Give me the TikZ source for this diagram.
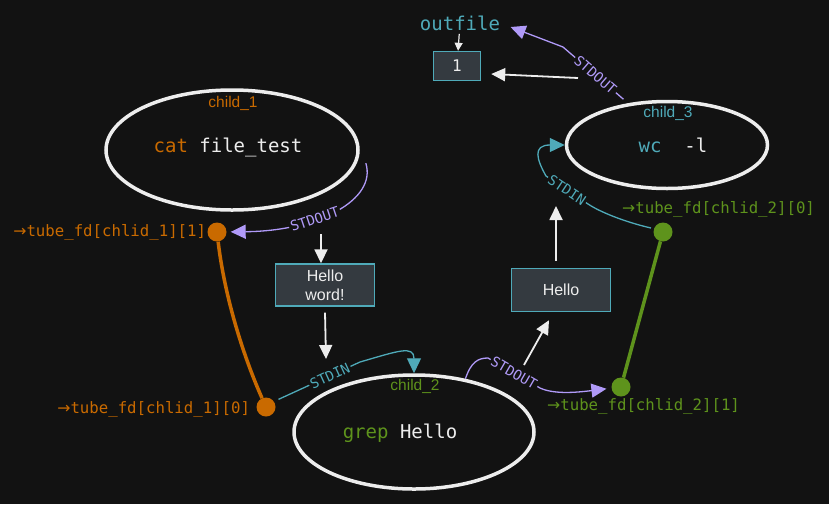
\documentclass[tikz,border=0pt]{standalone}
\usepackage{fontspec}
\setmainfont{Liberation Sans}
\setmonofont{DejaVu Sans Mono}
\newfontfamily\arrowfont{DejaVu Sans}
\usetikzlibrary{arrows.meta,positioning,shapes.geometric}

\definecolor{bgdark}{HTML}{121212}
\definecolor{catorange}{HTML}{C96A00}
\definecolor{grepgreen}{HTML}{5E931C}
\definecolor{wccyan}{HTML}{4FAAB9}
\definecolor{outviolet}{HTML}{B09AF8}
\definecolor{chalk}{HTML}{EDEDED}
\definecolor{boxgray}{HTML}{343A40}

\newcommand{\fdarrow}{{\arrowfont →}}

\begin{document}
\begin{tikzpicture}[x=1pt, y=-1pt,
  proc/.style={draw=chalk, line width=3.5pt, ellipse, inner sep=0pt},
  childtag/.style={font=\fontsize{15.5}{17}\selectfont},
  cmd/.style={font=\fontsize{19}{22}\selectfont\ttfamily, text=chalk},
  buf/.style={draw=wccyan, fill=boxgray, line width=1.4pt, text=chalk, inner sep=0pt, font=\fontsize{16}{19}\selectfont, align=center},
  fdend/.style={circle, inner sep=0pt, minimum size=19pt},
  fdlabel/.style={font=\fontsize{15.7}{18}\selectfont\ttfamily, inner sep=0pt},
  pipe/.style={line width=3.5pt},
  stdout/.style={draw=outviolet, line width=1.3pt, -{Triangle[length=15pt,width=14pt]}},
  stdin/.style={draw=wccyan, line width=1.3pt, -{Triangle[length=15pt,width=14pt]}},
  flow/.style={fill=bgdark, inner sep=1.5pt, font=\fontsize{14}{16}\selectfont\ttfamily},
  data/.style={draw=chalk, line width=1.8pt, -{Triangle[length=14pt,width=13pt]}},
]
\fill[bgdark] (0,0) rectangle (829,504);
\useasboundingbox (0,0) rectangle (829,504);

% the three children
\node[proc, minimum width=252pt, minimum height=120pt] (child1) at (232,150) {};
\node[childtag, text=catorange] (tag1) at (233,103) {child\_1};
\node[cmd] (cmd1) at (228,147) {\textcolor{catorange}{cat} file\_test};

\node[proc, minimum width=240pt, minimum height=114pt] (child2) at (414,432) {};
\node[childtag, text=grepgreen] (tag2) at (415,386) {child\_2};
\node[cmd] (cmd2) at (400,433) {\textcolor{grepgreen}{grep} Hello};

\node[proc, minimum width=201pt, minimum height=87pt] (child3) at (667,145) {};
\node[childtag, text=wccyan] (tag3) at (668,113) {child\_3};
\node[cmd] (cmd3) at (673,145) {\textcolor{wccyan}{wc}~~-l};

% buffers
\node[buf, minimum width=99pt, minimum height=42pt] (msg1) at (325,285) {Hello\\word!};
\node[buf, minimum width=99pt, minimum height=43pt] (msg2) at (561,290) {Hello};
\node[buf, minimum width=47pt, minimum height=29pt, font=\fontsize{16}{18}\selectfont\ttfamily] (fd1) at (457,66) {1};
\node[cmd, text=wccyan] (outfile) at (460,23) {outfile};

% pipe ends
\node[fdend, fill=catorange] (w1) at (217,232) {};
\node[fdend, fill=catorange] (r1) at (266,407) {};
\node[fdend, fill=grepgreen] (r2) at (663,232) {};
\node[fdend, fill=grepgreen] (w2) at (621,387) {};
\draw[pipe, catorange] (w1) .. controls (225,300) and (245,360) .. (r1);
\draw[pipe, grepgreen] (w2) -- (r2);

\node[fdlabel, text=catorange, left=1pt of w1] (w1l) {\fdarrow tube\_fd[chlid\_1][1]};
\node[fdlabel, text=catorange, left=6pt of r1, yshift=-2pt] (r1l) {\fdarrow tube\_fd[chlid\_1][0]};
\node[fdlabel, text=grepgreen, anchor=west] (r2l) at (622,209) {\fdarrow tube\_fd[chlid\_2][0]};
\node[fdlabel, text=grepgreen, anchor=west] (w2l) at (547,406) {\fdarrow tube\_fd[chlid\_2][1]};

% redirections
\draw[stdout, shorten >=4pt] ([xshift=9pt]child1.-6) .. controls (377,200) and (318,231) .. node[flow, text=outviolet, sloped, pos=0.62] {STDOUT} (w1);
\draw[stdin, shorten <=5pt] (r1.35) -- node[flow, text=wccyan, sloped, pos=0.65] {STDIN} (360,362) .. controls (398,351) and (414,345) .. (child2.north);
\draw[stdout, shorten >=5pt] (child2.46) .. controls (471,362) and (478,358) .. (488,358) -- node[flow, text=outviolet, sloped] {STDOUT} (540,388) .. controls (555,395) and (580,392) .. (w2);
\draw[stdin, shorten <=3pt] (r2.160) .. controls (625,222) and (600,212) .. (588,204) -- node[flow, text=wccyan, sloped] {STDIN} (546,176) .. controls (537,160) and (532,145) .. (child3.west);
\draw[stdout, shorten <=6pt] (child3.133) -- node[flow, text=outviolet, sloped] {STDOUT} (563,47) -- ([xshift=7pt, yshift=-4pt]outfile.east);

% data moving through the pipes
\coordinate (d1) at (321,234);
\coordinate (d2) at (326,359);
\coordinate (d3) at (524,365);
\coordinate (d4) at (556,206);
\coordinate (d5) at (578,78);
\draw[data] (d1) -- (d1 |- msg1.north);
\draw[data] ([yshift=-6pt]msg1.south) -- (d2);
\draw[data] (d3) -- ([xshift=-12pt, yshift=-8pt]msg2.south);
\draw[data] ([xshift=-5pt, yshift=7pt]msg2.north) -- (d4);
\draw[data] (d5) -- ([xshift=10pt, yshift=-8pt]fd1.east);
\draw[data, line width=1.2pt, -{Triangle[length=8pt,width=8pt]}] (outfile) -- (fd1);
\end{tikzpicture}
\end{document}
